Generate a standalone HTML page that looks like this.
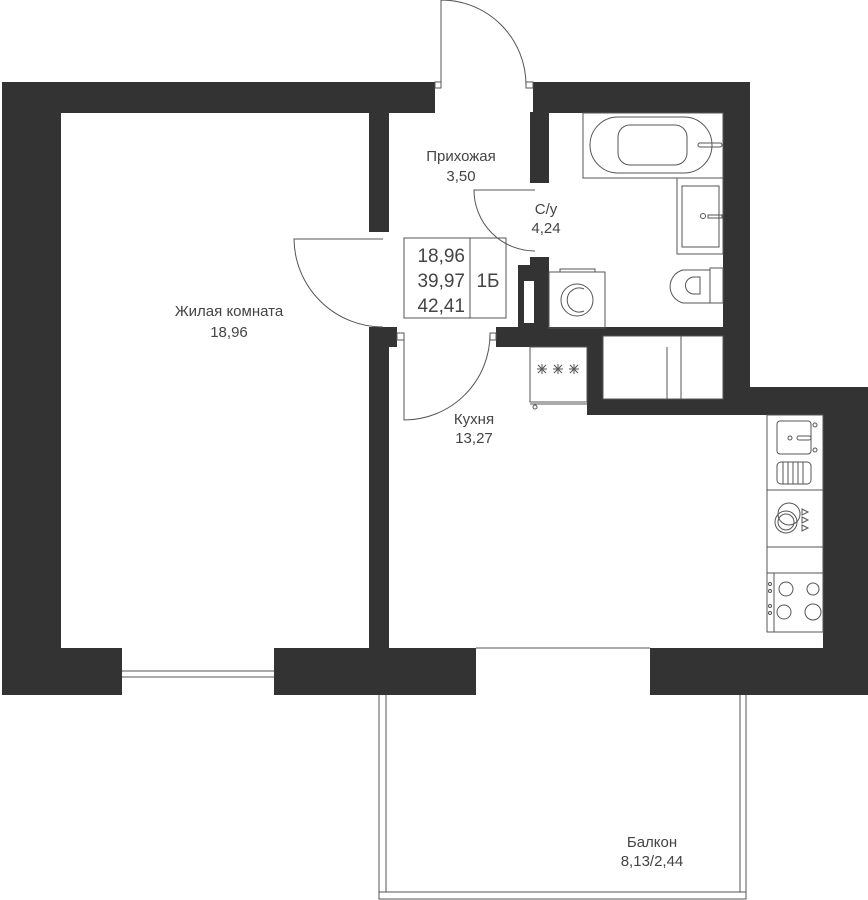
<!DOCTYPE html>
<html><head><meta charset="utf-8"><style>
html,body{margin:0;padding:0;background:#fff}
svg{display:block}
text{font-family:"Liberation Sans",sans-serif;fill:#444}
</style></head><body>
<svg width="868" height="900" viewBox="0 0 868 900" xmlns="http://www.w3.org/2000/svg">
<g fill="#333">
<rect x="2" y="82" width="433" height="31"/>
<rect x="2" y="82" width="59" height="613"/>
<rect x="369" y="112" width="20" height="120"/>
<rect x="369" y="327" width="20" height="322"/>
<rect x="369" y="327" width="28" height="20"/>
<rect x="533" y="82" width="217" height="31"/>
<rect x="723" y="82" width="27" height="318"/>
<rect x="530" y="112" width="19" height="71"/>
<rect x="530" y="257" width="19" height="71"/>
<rect x="518" y="265" width="31" height="63"/>
<rect x="496" y="327" width="107" height="20"/>
<rect x="587" y="327" width="139" height="9"/>
<rect x="587" y="327" width="16" height="88"/>
<rect x="587" y="399" width="281" height="16"/>
<rect x="750" y="387" width="118" height="28"/>
<rect x="823" y="387" width="45" height="308"/>
<rect x="2" y="648" width="120" height="47"/>
<rect x="274" y="648" width="202" height="47"/>
<rect x="650" y="648" width="218" height="47"/>
</g>
<rect x="524" y="281" width="10" height="42" fill="#fff"/>
<g fill="none" stroke="#555" stroke-width="1">
<line x1="122" y1="671" x2="274" y2="671"/><line x1="122" y1="677" x2="274" y2="677"/>
<line x1="476" y1="648" x2="650" y2="648"/>
<path d="M379 695V899H746V695M386 695V892H740V695M379 892H746"/>
<path d="M441 88V0A85 85 0 0 1 526 85"/>
<rect x="435" y="82" width="6" height="6"/><rect x="526" y="82" width="7" height="6"/>
<path d="M535 190H474A61 61 0 0 0 535 251"/>
<path d="M383 239H294A89 89 0 0 0 383 327"/>
<path d="M404 333V420A86 86 0 0 0 490 333"/>
<rect x="397" y="333" width="7" height="7"/><rect x="490" y="333" width="6" height="7"/>
<rect x="404" y="238" width="102" height="80"/><line x1="470" y1="238" x2="470" y2="318"/>
<rect x="583" y="113" width="140" height="65"/>
<rect x="590" y="117" width="122" height="56" rx="28"/>
<rect x="618" y="125" width="69" height="40" rx="12"/>
<rect x="698" y="143" width="24" height="4" rx="2"/>
<rect x="677" y="178" width="46" height="76"/>
<rect x="682" y="186" width="37" height="61"/>
<circle cx="703" cy="216" r="2.5"/><rect x="708" y="215" width="14" height="3"/>
<rect x="710" y="268" width="13" height="35"/>
<path d="M710 270H683A17 17 0 0 0 683 303H710Z"/>
<path d="M700 277H694A8 8 0 0 0 694 294H700Z"/>
<rect x="549" y="272" width="56" height="56"/>
<rect x="560" y="269" width="35" height="3"/>
<circle cx="577" cy="300" r="16"/>
<path d="M584 289A12 12 0 1 0 584 311"/>
<rect x="603" y="336" width="120" height="63"/><line x1="681" y1="336" x2="681" y2="399"/><line x1="667" y1="347" x2="667" y2="399"/>
<rect x="530" y="347" width="57" height="55"/><line x1="530" y1="404" x2="587" y2="404"/>
<circle cx="535" cy="407" r="2"/>
<rect x="767" y="415" width="56" height="217"/>
<line x1="767" y1="490" x2="823" y2="490"/><line x1="767" y1="547" x2="823" y2="547"/><line x1="767" y1="573" x2="823" y2="573"/>
<rect x="777" y="421" width="34" height="33" rx="3"/>
<circle cx="790" cy="438" r="2"/><rect x="797" y="436" width="14" height="4" rx="2"/>
<circle cx="815" cy="425" r="2"/><circle cx="815" cy="450" r="2"/>
<rect x="777" y="462" width="34" height="22" rx="4"/>
<path d="M783 462V484M788 462V484M793 462V484M798 462V484M803 462V484"/>
<circle cx="789" cy="514" r="11"/><circle cx="786" cy="522" r="8"/><circle cx="786" cy="522" r="11"/>
<path d="M802 509l6 3-6 3zM802 517l6 3-6 3zM802 525l6 3-6 3z"/>
<line x1="774" y1="573" x2="774" y2="632"/>
<circle cx="786" cy="589" r="7"/><circle cx="813" cy="589" r="6"/>
<circle cx="784" cy="612" r="7"/><circle cx="813" cy="612" r="8"/>
<circle cx="770" cy="584" r="1.5"/><circle cx="770" cy="591" r="1.5"/><circle cx="770" cy="606" r="1.5"/><circle cx="770" cy="613" r="1.5"/>
</g>
<g stroke="#555" stroke-width="1">
<path d="M537 369h10M542 364v10M538 365l8 8M546 365l-8 8"/>
<path d="M553 369h10M558 364v10M554 365l8 8M562 365l-8 8"/>
<path d="M569 369h10M574 364v10M570 365l8 8M578 365l-8 8"/>
</g>
<g font-size="15" text-anchor="middle">
<text x="461" y="161">Прихожая</text><text x="461" y="181">3,50</text>
<text x="546" y="214">С/у</text><text x="546" y="233">4,24</text>
<text x="229" y="316">Жилая комната</text><text x="229" y="337">18,96</text>
<text x="474" y="424">Кухня</text><text x="474" y="443">13,27</text>
<text x="652" y="847">Балкон</text><text x="652" y="866">8,13/2,44</text>
</g>
<g font-size="19" text-anchor="end">
<text x="465" y="262">18,96</text><text x="465" y="287">39,97</text><text x="465" y="312">42,41</text>
</g>
<text x="488" y="287" font-size="19" text-anchor="middle">1Б</text>
</svg>
</body></html>
